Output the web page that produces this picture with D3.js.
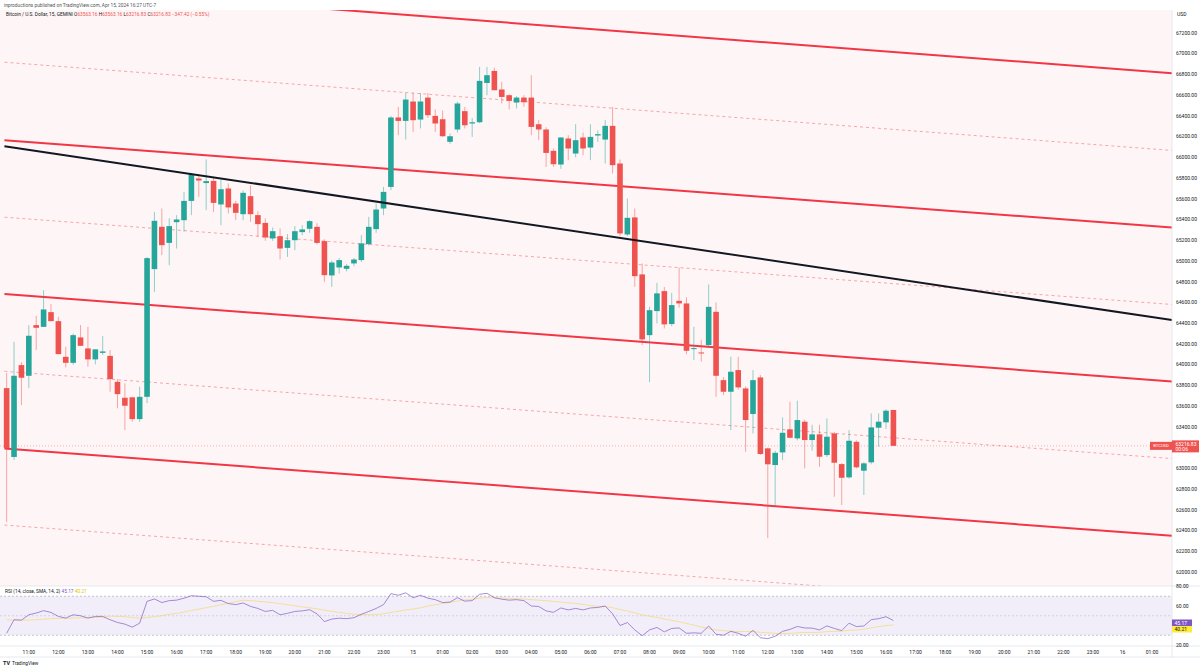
<!DOCTYPE html>
<html>
<head>
<meta charset="utf-8">
<script src="https://cdn.jsdelivr.net/npm/d3@7"></script>
<style>
  body { margin: 0; background: #fff; }
  text { font-family: Roboto, "Liberation Sans", sans-serif; }
</style>
</head>
<body>
<div id="main"></div>
<script>

//=============== DATA ===============
// 15 minute candles, first one is 10:15 (Apr 14), last one 16:15 (Apr 15)
var ohlc = [
  [63774,63919,62482,63196],[63110,64221,63080,63893],[63996,64025,63610,63874],[63893,64382,63774,64279],
  [64382,64472,64141,64356],[64365,64719,64365,64533],[64507,64584,64420,64420],[64420,64462,64102,64102],
  [64076,64173,63974,64018],[64018,64300,64000,64285],[64263,64382,64182,64182],[64157,64365,63980,64051],
  [64051,64148,64003,64148],[64114,64276,64093,64128],[64085,64141,63739,63861],[63835,63860,63579,63716],
  [63681,63820,63369,63604],[63685,63690,63449,63475],[63475,63787,63449,63690],[63690,65040,63630,65028],
  [64922,65474,64703,65388],[65330,65507,65057,65153],[65175,65411,64960,65337],[65375,65443,65121,65401],
  [65394,65667,65282,65580],[65580,65850,65443,65838],[65796,65830,65619,65777],[65752,65980,65491,65771],
  [65773,65812,65474,65561],[65546,65787,65346,65693],[65700,65748,65459,65517],[65555,65580,65394,65465],
  [65452,65680,65394,65658],[65626,65732,65378,65452],[65443,65480,65234,65356],[65368,65411,65195,65227],
  [65218,65324,65195,65288],[65240,65314,65015,65121],[65127,65260,65040,65201],[65201,65337,65105,65288],
  [65279,65346,65250,65305],[65311,65394,65272,65385],[65330,65365,65160,65175],[65192,65210,64799,64864],
  [64861,65005,64751,64986],[64938,65030,64880,65009],[64925,64970,64900,64954],[64977,65030,64950,65015],
  [65009,65250,64990,65170],[65163,65426,65150,65330],[65308,65555,65272,65497],[65507,65715,65443,65667],
  [65715,66400,65684,66385],[66385,66487,66214,66352],[66352,66622,66172,66558],[66539,66622,66246,66359],
  [66365,66622,66279,66539],[66577,66622,66380,66407],[66400,66462,66246,66327],[66368,66452,66198,66204],
  [66150,66230,66130,66204],[66269,66536,66240,66520],[66446,66487,66279,66310],[66327,66380,66198,66339],
  [66339,66873,66330,66738],[66718,66873,66600,66793],[66834,66866,66648,66648],[66655,66729,66520,66583],
  [66600,66610,66462,66545],[66529,66590,66472,66577],[66577,66600,66490,66532],[66577,66793,66214,66294],
  [66320,66360,66166,66269],[66269,66290,65908,66043],[66063,66085,65908,65934],[65931,66192,65890,66192],
  [66182,66214,65973,66086],[66037,66320,66000,66166],[66192,66240,66020,66086],[66095,66320,65973,66198],
  [66211,66260,66150,66224],[66172,66360,65941,66304],[66304,66487,65845,65925],[65941,65980,65240,65266],
  [65256,65604,65240,65417],[65421,65507,64751,64854],[64871,64977,64189,64244],[64285,64560,63832,64526],
  [64517,64790,64398,64688],[64710,64750,64350,64389],[64392,64693,64370,64575],[64616,64938,64550,64591],
  [64591,64650,64100,64134],[64150,64365,64044,64160],[64118,64240,64030,64109],[64189,64774,64160,64558],
  [64510,64600,63690,63893],[63851,63880,63707,63739],[63739,64076,63369,63932],[63948,64076,63760,63781],
  [63771,63790,63160,63466],[63524,63948,63337,63851],[63877,63900,63130,63138],[63193,63200,62328,63039],
  [63032,63170,62630,63150],[63154,63492,63080,63343],[63376,63642,63290,63295],[63289,63652,63270,63466],
  [63450,63470,63000,63273],[63273,63420,63170,63328],[63328,63420,63015,63112],[63128,63482,63110,63305],
  [63337,63350,62726,63054],[63041,63050,62646,62909],[62913,63369,62900,63266],[63256,63270,63000,63010],
  [62977,63060,62743,63048],[63058,63530,63040,63395],[63392,63530,63208,63450],[63444,63570,63380,63556],
  [63563.16,63563.16,63216.83,63216.83]
];

// RSI(14) per candle, and the 13 values before the first visible candle (for the SMA 14)
var rsiPrev = [50,49,48,47,48,46,45,47,48,46,47,45,44.6];
var rsi = [
  32,45.9,45.5,51,52.8,55.2,53.4,49.3,47.6,51,50,47.6,49.3,49.3,45.9,43.1,41.4,38.3,42.4,64.8,
  67.2,63.5,65.5,66,68,70.5,70,69.5,64.8,65.8,62.5,61.4,63.1,59.6,57.5,54.4,55.5,51,52.5,54.4,
  55,56.2,52,44,46.6,47.5,47,48,51.5,54.4,57.5,61.4,72.7,71,73.5,68.5,71,68,66.5,63.5,
  64,68.5,65,65.5,72,73,68.5,67,66,66.5,65.5,60,59.5,55,53.5,58,56,57.5,56,58,
  58.5,60,52,40,43,35.5,29.5,35.5,38,33.5,37,37.5,32,32.5,32,39.5,31,30,34,32,
  29,35,27.5,26.5,29,34,36,39,37.5,37.3,35.5,39.6,37,34.8,42.4,38.9,39.5,46,47,49,
  45.17
];

// channel drawing: price where each line starts (index -0.3) and where it meets the axis
var lineStart = -0.3, lineEnd = 157.7;
var channelSolid = [[67670,66812],[66166,65324],[64681,63839],[63191,62349]];
var channelDashed = [[66918,66067],[65423,64581],[63936,63094],[62453,61611]];
var trendLine = [66108,64430];

var lastPrice = 63216.83;
var priceTicks = d3.range(62000, 67201, 200);
var rsiTicks = [80, 60, 40, 20];
var rsiLevels = [70, 50, 30];
var timeLabels = ["11:00","12:00","13:00","14:00","15:00","16:00","17:00","18:00","19:00","20:00",
  "21:00","22:00","23:00","15","01:00","02:00","03:00","04:00","05:00","06:00","07:00","08:00",
  "09:00","10:00","11:00","12:00","13:00","14:00","15:00","16:00","17:00","18:00","19:00","20:00",
  "21:00","22:00","23:00","16","01:00"];
var firstLabelIndex = 3; // 11:00 is the 4th candle

//=============== LAYOUT ===============
var width = 1200, height = 669,
    paneRight = 1172, paneTop = 10, paneBottom = 586,
    rsiBottom = 646,
    up = "#26a69a", down = "#ef5350", lineRed = "#f23645";

var svg = d3.select("#main").append("svg")
    .attr("width", width)
    .attr("height", height)
    .style("display", "block");

var x = d3.scaleLinear().domain([-0.9, 157.7]).range([0, paneRight]);
var y = d3.scaleLinear().domain([62000, 67200]).range([572, 33]);
var yr = d3.scaleLinear().domain([20, 80]).range([645, 586.5]);

svg.append("rect").attr("width", width).attr("height", height).attr("fill", "#fff");

// main pane background
svg.append("rect")
  .attr("x", 0).attr("y", paneTop)
  .attr("width", paneRight).attr("height", paneBottom - paneTop)
  .attr("fill", "#fef6f6");

svg.append("clipPath").attr("id", "pane")
  .append("rect").attr("x", 0).attr("y", paneTop)
  .attr("width", paneRight).attr("height", paneBottom - paneTop);

var pane = svg.append("g").attr("clip-path", "url(#pane)");

// last price dotted line
pane.append("line")
  .attr("x1", 0).attr("x2", paneRight)
  .attr("y1", y(lastPrice)).attr("y2", y(lastPrice))
  .attr("stroke", down).attr("stroke-opacity", 0.6)
  .attr("stroke-width", 0.7).attr("stroke-dasharray", "1,2");

// channel
pane.selectAll(".ch-dash").data(channelDashed).enter().append("line")
  .attr("class", "ch-dash")
  .attr("x1", x(lineStart)).attr("x2", x(lineEnd))
  .attr("y1", function(d){ return y(d[0]); })
  .attr("y2", function(d){ return y(d[1]); })
  .attr("stroke", lineRed).attr("stroke-opacity", 0.55)
  .attr("stroke-width", 0.8).attr("stroke-dasharray", "3,3");

pane.selectAll(".ch-solid").data(channelSolid).enter().append("line")
  .attr("class", "ch-solid")
  .attr("x1", x(lineStart)).attr("x2", x(lineEnd))
  .attr("y1", function(d){ return y(d[0]); })
  .attr("y2", function(d){ return y(d[1]); })
  .attr("stroke", lineRed).attr("stroke-width", 2);

// candles
var candle = pane.selectAll(".candle").data(ohlc).enter().append("g")
  .attr("class", "candle")
  .attr("transform", function(d, i){ return "translate(" + x(i) + ",0)"; });

candle.append("line")
  .attr("y1", function(d){ return y(d[1]); })
  .attr("y2", function(d){ return y(d[2]); })
  .attr("stroke", function(d){ return d[3] >= d[0] ? up : down; })
  .attr("stroke-opacity", 0.5)
  .attr("stroke-width", 1);

candle.append("rect")
  .attr("x", -2.8).attr("width", 5.6)
  .attr("y", function(d){ return y(Math.max(d[0], d[3])); })
  .attr("height", function(d){ return Math.max(1, Math.abs(y(d[0]) - y(d[3]))); })
  .attr("fill", function(d){ return d[3] >= d[0] ? up : down; });

// black trend line on top
pane.append("line")
  .attr("x1", x(lineStart)).attr("x2", x(lineEnd))
  .attr("y1", y(trendLine[0])).attr("y2", y(trendLine[1]))
  .attr("stroke", "#131722").attr("stroke-width", 2);

//=============== RSI PANE ===============
var rsiAll = rsiPrev.concat(rsi);
var rsiMa = rsi.map(function(v, i){
  return d3.mean(rsiAll.slice(i, i + 14));
});

svg.append("rect")
  .attr("x", 0).attr("width", paneRight)
  .attr("y", yr(70)).attr("height", yr(30) - yr(70))
  .attr("fill", "#7e57c2").attr("fill-opacity", 0.1);

svg.selectAll(".lvl").data(rsiLevels).enter().append("line")
  .attr("class", "lvl")
  .attr("x1", 0).attr("x2", paneRight)
  .attr("y1", function(d){ return yr(d); }).attr("y2", function(d){ return yr(d); })
  .attr("stroke", "#787b86")
  .attr("stroke-opacity", function(d){ return d == 50 ? 0.35 : 0.6; })
  .attr("stroke-width", 0.7).attr("stroke-dasharray", "2,2");

svg.append("path")
  .datum(rsiMa)
  .attr("d", d3.line().x(function(d, i){ return x(i); }).y(function(d){ return yr(d); }))
  .attr("fill", "none").attr("stroke", "#f7d774").attr("stroke-width", 1).attr("stroke-opacity", 0.7);

svg.append("path")
  .datum(rsi)
  .attr("d", d3.line().x(function(d, i){ return x(i); }).y(function(d){ return yr(d); }))
  .attr("fill", "none").attr("stroke", "#7e57c2").attr("stroke-width", 0.8).attr("stroke-opacity", 0.85);

//=============== BORDERS / AXES ===============
svg.append("line").attr("x1", 0).attr("x2", width)
  .attr("y1", paneBottom).attr("y2", paneBottom).attr("stroke", "#e0e3eb").attr("stroke-width", 0.8);
svg.append("line").attr("x1", 0).attr("x2", width)
  .attr("y1", rsiBottom).attr("y2", rsiBottom).attr("stroke", "#e0e3eb").attr("stroke-width", 0.8);
svg.append("line").attr("x1", 0).attr("x2", width)
  .attr("y1", 657).attr("y2", 657).attr("stroke", "#e0e3eb").attr("stroke-width", 0.8);
svg.append("line").attr("x1", paneRight).attr("x2", paneRight)
  .attr("y1", paneTop).attr("y2", 657).attr("stroke", "#e0e3eb").attr("stroke-width", 0.8);

var axisFont = 5;

svg.append("text").attr("x", 1177).attr("y", 16).text("USD")
  .attr("font-size", axisFont).attr("fill", "#131722");

svg.selectAll(".ptick").data(priceTicks.filter(function(p){
    return Math.abs(y(p) - y(lastPrice)) > 8;
  })).enter().append("text")
  .attr("class", "ptick")
  .attr("x", 1176).attr("y", function(d){ return y(d); })
  .attr("dy", "0.35em")
  .attr("font-size", axisFont).attr("fill", "#131722")
  .text(function(d){ return d3.format(".2f")(d); });

svg.selectAll(".rtick").data(rsiTicks.filter(function(v){ return v != 40; })).enter().append("text")
  .attr("class", "rtick")
  .attr("x", 1176).attr("y", function(d){ return yr(d); })
  .attr("dy", "0.35em")
  .attr("font-size", axisFont).attr("fill", "#131722")
  .text(function(d){ return d3.format(".2f")(d); });

svg.selectAll(".ttick").data(timeLabels).enter().append("text")
  .attr("class", "ttick")
  .attr("x", function(d, k){ return x(firstLabelIndex + 4 * k); })
  .attr("y", 652).attr("dy", "0.35em")
  .attr("text-anchor", "middle")
  .attr("font-size", axisFont).attr("fill", "#131722")
  .text(function(d){ return d; });

// last price label
var lp = svg.append("g").attr("transform", "translate(0," + y(lastPrice) + ")");
lp.append("rect").attr("x", paneRight).attr("y", -5.5).attr("width", 27).attr("height", 12).attr("fill", down);
lp.append("text").attr("x", paneRight + 3.5).attr("y", -1.5).attr("dy", "0.35em")
  .attr("font-size", axisFont).attr("fill", "#fff").text(d3.format(".2f")(lastPrice));
lp.append("text").attr("x", paneRight + 3.5).attr("y", 3.5).attr("dy", "0.35em")
  .attr("font-size", axisFont).attr("fill", "#fff").text("00:06");
lp.append("rect").attr("x", paneRight - 22).attr("y", -4).attr("width", 22).attr("height", 8).attr("fill", down);
lp.append("text").attr("x", paneRight - 11).attr("y", 0).attr("dy", "0.35em").attr("text-anchor", "middle")
  .attr("font-size", 4.2).attr("fill", "#fff").text("BTCUSD");

// rsi value labels
var rl = svg.append("g");
rl.append("rect").attr("x", paneRight).attr("y", 619.5).attr("width", 20).attr("height", 6.5).attr("fill", "#7e57c2");
rl.append("text").attr("x", paneRight + 2.5).attr("y", 622.8).attr("dy", "0.35em")
  .attr("font-size", axisFont).attr("fill", "#fff").text(d3.format(".2f")(rsi[rsi.length - 1]));
rl.append("rect").attr("x", paneRight).attr("y", 626).attr("width", 20).attr("height", 6.5).attr("fill", "#ffeb3b");
rl.append("text").attr("x", paneRight + 2.5).attr("y", 629.3).attr("dy", "0.35em")
  .attr("font-size", axisFont).attr("fill", "#131722").text("40.21");

//=============== LEGENDS ===============
svg.append("text").attr("x", 4).attr("y", 5).attr("dy", "0.35em")
  .attr("font-size", 4.8).attr("fill", "#555")
  .text("inproductions published on TradingView.com, Apr 15, 2024 16:27 UTC-7");

var leg = svg.append("text").attr("x", 6).attr("y", 14).attr("dy", "0.35em")
  .attr("font-size", 4.8).attr("fill", "#131722");
leg.append("tspan").text("Bitcoin / U.S. Dollar, 15, GEMINI  ");
var last = ohlc[ohlc.length - 1];
[["O", last[0]], ["H", last[1]], ["L", last[2]], ["C", last[3]]].forEach(function(d){
  leg.append("tspan").text(d[0]);
  leg.append("tspan").attr("fill", down).text(d3.format(".2f")(d[1]) + "  ");
});
leg.append("tspan").attr("fill", down).text("\u2212347.42 (\u22120.55%)");

var rleg = svg.append("text").attr("x", 5).attr("y", 591).attr("dy", "0.35em")
  .attr("font-size", 4.8).attr("fill", "#131722");
rleg.append("tspan").text("RSI (14, close, SMA, 14, 2)  ");
rleg.append("tspan").attr("fill", "#7e57c2").text(d3.format(".2f")(rsi[rsi.length - 1]) + "  ");
rleg.append("tspan").attr("fill", "#e3c300").text("40.21");

// logo
svg.append("text").attr("x", 3).attr("y", 663).attr("dy", "0.35em")
  .attr("font-size", 5.5).attr("font-weight", "bold").attr("fill", "#131722").text("TV");
svg.append("text").attr("x", 12).attr("y", 663).attr("dy", "0.35em")
  .attr("font-size", 4.8).attr("fill", "#131722").text("TradingView");

</script>
</body>
</html>
